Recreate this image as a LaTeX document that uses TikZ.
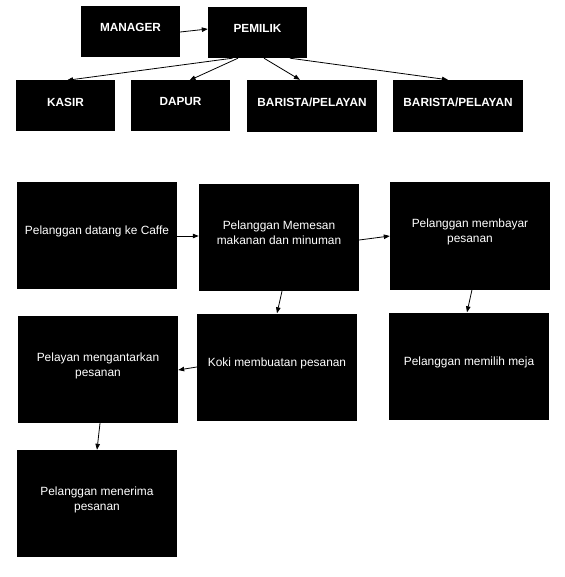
\documentclass[tikz,border=0pt]{standalone}
\usepackage{fontspec}
\setmainfont{Liberation Sans}
\usetikzlibrary{arrows.meta}
\begin{document}
\begin{tikzpicture}[x=1pt,y=-1pt,
  box/.style={fill=black, draw=none, inner sep=0pt},
  small/.style={box, minimum width=99pt, minimum height=51pt},
  wide/.style={box, minimum width=130pt, minimum height=52pt},
  big/.style={box, minimum width=160pt, minimum height=107pt},
  lbl/.style={text=white, align=center, inner sep=0pt, font=\fontsize{11.9}{15}\selectfont},
  blbl/.style={text=white, align=center, inner sep=0pt, font=\fontsize{11.8}{15}\selectfont\bfseries},
  conn/.style={line width=0.8pt, -{Triangle[length=6pt,width=4.5pt]}}]
\useasboundingbox (0,0) rectangle (564,577);

% organisation chart
\node[small] (man) at (130.5,31.5) {};
\node[small] (pem) at (257.5,32.5) {};
\node[small] (kas) at (65.5,106) {};
\node[small] (dap) at (180.5,106) {};
\node[wide]  (ba1) at (312,106) {};
\node[wide]  (ba2) at (458,106) {};

\node[blbl] (man-t) at ([yshift=4pt]man.center) {MANAGER};
\node[blbl] (pem-t) at ([yshift=4pt]pem.center) {PEMILIK};
\node[blbl] (kas-t) at ([yshift=4pt]kas.center) {KASIR};
\node[blbl] (dap-t) at ([yshift=4pt]dap.center) {DAPUR};
\node[blbl] (ba1-t) at ([yshift=4pt]ba1.center) {BARISTA/PELAYAN};
\node[blbl] (ba2-t) at ([yshift=4pt]ba2.center) {BARISTA/PELAYAN};

\draw[conn] ([yshift=-0.5pt]man.east) -- ([yshift=3.5pt]pem.west);
\draw[conn] ([xshift=-25pt]pem.south) -- ([xshift=1.5pt]kas.north);
\draw[conn] ([xshift=-19.5pt]pem.south) -- ([xshift=9pt]dap.north);
\draw[conn] ([xshift=6.5pt]pem.south) -- ([xshift=-12pt]ba1.north);
\draw[conn] ([xshift=32.5pt]pem.south) -- ([xshift=-10pt]ba2.north);

% flow
\node[big] (a) at (97,235.5) {};
\node[big] (b) at (279,237.5) {};
\node[big] (c) at (470,236) {};
\node[big] (d) at (469,366) {};
\node[big] (e) at (98,369.5) {};
\node[big] (f) at (277,367) {};
\node[big] (g) at (97,503.5) {};

\node[lbl] (a-t) at ([yshift=4pt]a.center) {Pelanggan datang ke Caffe};
\node[lbl] (b-t) at ([yshift=5pt]b.center) {Pelanggan Memesan\\makanan dan minuman};
\node[lbl] (c-t) at ([yshift=4pt]c.center) {Pelanggan membayar\\pesanan};
\node[lbl] (d-t) at ([yshift=4pt]d.center) {Pelanggan memilih meja};
\node[lbl] (e-t) at ([yshift=4pt]e.center) {Pelayan mengantarkan\\pesanan};
\node[lbl] (f-t) at ([yshift=4pt]f.center) {Koki membuatan pesanan};
\node[lbl] (g-t) at ([yshift=4pt]g.center) {Pelanggan menerima\\pesanan};

\draw[conn] ([yshift=-0.5pt]a.east) -- ([yshift=1.5pt]b.west);
\draw[conn] ([yshift=-2.5pt]b.east) -- (c.west);
\draw[conn] ([xshift=3pt]b.south) -- (f.north);
\draw[conn] ([xshift=2pt]c.south) -- ([xshift=-2pt]d.north);
\draw[conn] (f.west) -- ([yshift=-0.5pt]e.east);
\draw[conn] ([xshift=2pt]e.south) -- (g.north);
\end{tikzpicture}
\end{document}
